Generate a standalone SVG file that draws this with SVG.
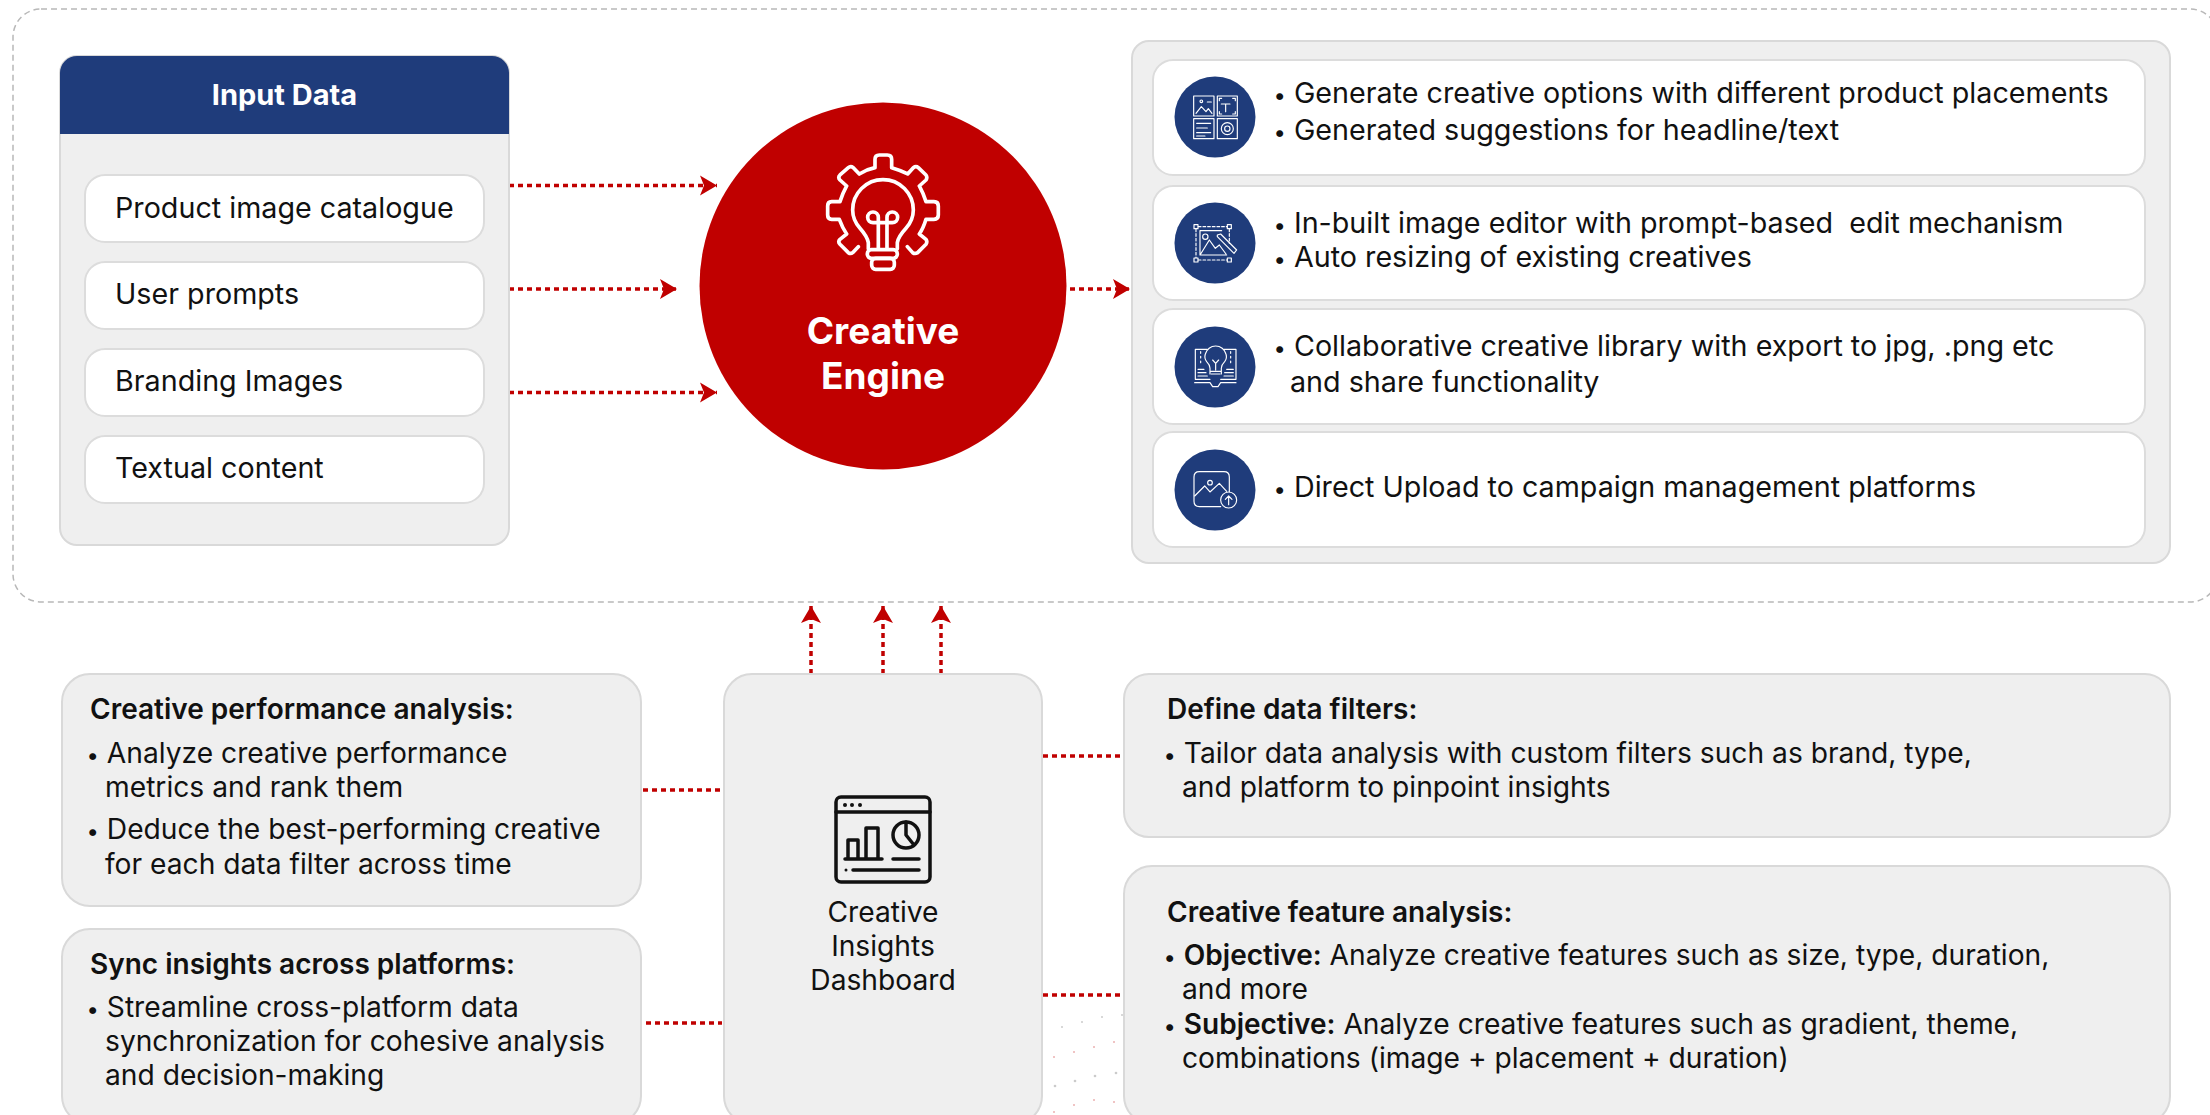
<svg xmlns="http://www.w3.org/2000/svg" width="2210" height="1115" viewBox="0 0 2210 1115">
<style>
text{font-family:Inter,Roboto,"Liberation Sans",sans-serif;fill:#111}
.t{font-size:28.700px}
.m{font-size:28.200px}
.b{font-weight:600;font-size:28px}
.w{fill:#fff;font-weight:700}
.d{font-size:22px}
.panel{fill:#efefef;stroke:#d9d9d9;stroke-width:2}
.card{fill:#fff;stroke:#dcdcdc;stroke-width:2}
.icn{fill:#1f3c7b}
.ln{fill:none;stroke:#fff;stroke-width:3.500;stroke-linecap:round;stroke-linejoin:round}
.conn{fill:none;stroke:#c00000;stroke-width:3.500;stroke-dasharray:5 4}
</style>
<defs>
<marker id="arr" markerUnits="userSpaceOnUse" markerWidth="20" markerHeight="22" refX="17" refY="10" orient="auto" viewBox="0 0 20 20">
<path d="M0,0 L17,10 L0,20 L4,10 Z" fill="#c00000"/>
</marker>
</defs>
<rect width="2210" height="1115" fill="#fff"/>
<rect id="frame" x="13" y="9" width="2205" height="593" rx="28" ry="28" fill="none" stroke="#b8b8b8" stroke-width="1.5" stroke-dasharray="6 4"/>
<g id="dots" fill="#c00000" opacity=".3">
<circle cx="1054" cy="1057" r="1"/><circle cx="1074" cy="1052" r="1"/><circle cx="1094" cy="1047" r="1"/><circle cx="1114" cy="1042" r="1"/>
<circle cx="1054" cy="1112" r="1"/><circle cx="1074" cy="1105" r="1"/><circle cx="1094" cy="1100" r="1"/><circle cx="1114" cy="1102" r="1"/>
<g fill="#555"><circle cx="1062" cy="1027" r="1"/><circle cx="1082" cy="1022" r="1"/><circle cx="1102" cy="1017" r="1"/><circle cx="1122" cy="1015" r="1"/><circle cx="1055" cy="1086" r="1.3"/><circle cx="1075" cy="1081" r="1.3"/><circle cx="1095" cy="1076" r="1.3"/><circle cx="1116" cy="1073" r="1.3"/></g>
</g>
<g id="connectors" class="conn">
<path d="M509,185.500H717" marker-end="url(#arr)"/>
<path d="M509,289H677" marker-end="url(#arr)"/>
<path d="M509,392.500H717" marker-end="url(#arr)"/>
<path d="M1070,289H1130" marker-end="url(#arr)"/>
<path d="M811,674V606" marker-end="url(#arr)"/>
<path d="M883,674V606" marker-end="url(#arr)"/>
<path d="M941,674V606" marker-end="url(#arr)"/>
<path d="M643,790H720"/>
<path d="M646,1023H722"/>
<path d="M1043,756H1120"/>
<path d="M1043,995H1120"/>
</g>
<g id="input-data">
<rect class="panel" x="60" y="56" width="449" height="489" rx="17"/>
<path d="M60,134V73a17,17 0 0 1 17,-17H492a17,17 0 0 1 17,17V134Z" fill="#1f3c7b"/>
<text class="w" x="284.500" y="105" font-size="29" text-anchor="middle">Input Data</text>
</g>
<g id="item-catalogue"><rect class="card" x="85" y="175" width="399" height="67" rx="20"/><text class="t" x="115" y="218">Product image catalogue</text></g>
<g id="item-prompts"><rect class="card" x="85" y="262" width="399" height="67" rx="20"/><text class="t" x="115" y="304">User prompts</text></g>
<g id="item-branding"><rect class="card" x="85" y="349" width="399" height="67" rx="20"/><text class="t" x="115" y="391">Branding Images</text></g>
<g id="item-textual"><rect class="card" x="85" y="436" width="399" height="67" rx="20"/><text class="t" x="115" y="478">Textual content</text></g>
<g id="creative-engine">
<circle cx="883" cy="286" r="183.500" fill="#c00000"/>
<g transform="translate(780 100) scale(.3333)" fill="none" stroke="#fff" stroke-width="11" stroke-linecap="round" stroke-linejoin="round">
<path d="M235,440 L218,458 Q212,463 205,458 L180,433 Q173,425 180,418 L200,402 Q188,385 178,358 L155,358 Q143,358 143,345 L143,318 Q143,305 155,305 L180,305 Q188,280 200,258 L180,240 Q173,232 180,225 L205,203 Q212,197 220,203 L238,222 Q260,208 285,203 L285,178 Q285,165 298,165 L322,165 Q335,165 335,178 L335,203 Q360,210 383,222 L400,203 Q408,197 415,203 L438,225 Q443,232 438,240 L418,258 Q430,280 438,305 L462,305 Q475,305 475,318 L475,345 Q475,358 462,358 L438,358 Q430,385 418,402 L438,418 Q443,425 438,433 L413,458 Q405,463 398,458 L382,440"/>
<path d="M265,447 L265,428 Q262,410 240,385 Q218,360 218,330 A90,90 0 0 1 400,330 Q400,360 378,385 Q355,410 352,428 L352,447"/>
<rect x="262" y="449" width="90" height="26" rx="12"/><rect x="275" y="475" width="68" height="33" rx="12"/>
<path d="M295,447V352A16,16 0 1 0 279,368H337A16,16 0 1 0 321,352V447"/>
</g>
<text class="w" x="883" y="344" font-size="37" text-anchor="middle">Creative</text>
<text class="w" x="883" y="389" font-size="37" text-anchor="middle">Engine</text>
</g>
<g id="output-panel"><rect class="panel" x="1132" y="41" width="1038" height="522" rx="17"/></g>
<g id="output-1">
<rect class="card" x="1153" y="60" width="992" height="115" rx="20"/>
<circle class="icn" cx="1215" cy="117" r="40.500"/>
<g class="ln" transform="translate(1130 30) scale(.3333)">
<rect x="191" y="198" width="61" height="60"/><rect x="262" y="198" width="60" height="60"/><rect x="191" y="266" width="61" height="60"/><rect x="262" y="266" width="60" height="60"/>
<path d="M198,250L214,230L228,245L235,236L246,250M232,216H244M274,222H300M287,222V245M268,212V205H275M308,205H316V212M268,245V252H275M316,245V252H308M200,280H242M200,294H232M200,308H242M200,318H225"/>
<circle cx="214" cy="214" r="4"/><circle cx="292" cy="296" r="8"/><circle cx="292" cy="296" r="18"/>
</g>
<text class="t" x="1273.500" y="103"><tspan class="d">•</tspan> Generate creative options with different product placements</text>
<text class="t" x="1273.500" y="140"><tspan class="d">•</tspan> Generated suggestions for headline/text</text>
</g>
<g id="output-2">
<rect class="card" x="1153" y="186" width="992" height="114" rx="20"/>
<circle class="icn" cx="1215" cy="243" r="40.500"/>
<g class="ln" transform="translate(1130 30) scale(.3333)">
<path stroke-dasharray="8 6" d="M205,590H292M298,597V640M205,690H292M198,597V683"/>
<rect x="192" y="584" width="12" height="12"/><rect x="292" y="584" width="12" height="12"/><rect x="192" y="684" width="12" height="12"/><rect x="292" y="684" width="12" height="12"/>
<path d="M210,602H275M210,602V675H290M212,672L238,630L256,655L268,645L288,672"/><circle cx="226" cy="620" r="8"/>
<path d="M262,615L272,612L320,660L312,670L262,620Z"/>
</g>
<text class="t" x="1273.500" y="233" style="white-space:pre"><tspan class="d">•</tspan> In-built image editor with prompt-based  edit mechanism</text>
<text class="t" x="1273.500" y="267"><tspan class="d">•</tspan> Auto resizing of existing creatives</text>
</g>
<g id="output-3">
<rect class="card" x="1153" y="309" width="992" height="115" rx="20"/>
<circle class="icn" cx="1215" cy="367" r="40.500"/>
<g class="ln" transform="translate(1130 300) scale(.3333)">
<path d="M232,148H196V238H240M282,148H318V238H272M194,248H240L248,260H264L272,248H318"/>
<path d="M240,222V205Q240,195 230,185Q222,175 226,162A32,32 0 0 1 288,162Q292,175 284,185Q274,195 274,205V222M240,214H274M244,222H270M248,180L257,190L266,180M257,190V210"/>
<path stroke-dasharray="5 9" d="M212,155V190M302,155V190"/>
<path d="M204,208H222M204,218H228M204,228H232M290,208H310M284,218H310M282,228H310"/>
</g>
<text class="t" x="1273.500" y="356"><tspan class="d">•</tspan> Collaborative creative library with export to jpg, .png etc</text>
<text class="t" x="1290" y="392">and share functionality</text>
</g>
<g id="output-4">
<rect class="card" x="1153" y="432" width="992" height="115" rx="20"/>
<circle class="icn" cx="1215" cy="490" r="40.500"/>
<g class="ln" transform="translate(1130 300) scale(.3333)">
<path d="M272,620H208Q192,620 192,604V531Q192,515 208,515H282Q298,515 298,531V575"/>
<path d="M194,588L224,558L240,576L268,550L290,574"/><circle cx="240" cy="548" r="7"/>
<circle cx="296" cy="600" r="24"/><path d="M296,614V588M286,598L296,588L306,598"/>
</g>
<text class="t" x="1273.500" y="497"><tspan class="d">•</tspan> Direct Upload to campaign management platforms</text>
</g>
<g id="perf-analysis">
<rect class="panel" x="62" y="674" width="579" height="232" rx="28"/>
<text class="b" x="90" y="719">Creative performance analysis:</text>
<text class="m" x="86.500" y="763"><tspan class="d">•</tspan> Analyze creative performance</text>
<text class="m" x="105" y="797">metrics and rank them</text>
<text class="m" x="86.500" y="839"><tspan class="d">•</tspan> Deduce the best-performing creative</text>
<text class="m" x="105" y="874">for each data filter across time</text>
</g>
<g id="sync-insights">
<rect class="panel" x="62" y="929" width="579" height="195" rx="28"/>
<text class="b" x="90" y="974">Sync insights across platforms:</text>
<text class="m" x="86.500" y="1017"><tspan class="d">•</tspan> Streamline cross-platform data</text>
<text class="m" x="105" y="1051">synchronization for cohesive analysis</text>
<text class="m" x="105" y="1085">and decision-making</text>
</g>
<g id="dashboard">
<rect class="panel" x="724" y="674" width="318" height="450" rx="28"/>
<g fill="none" stroke="#111" stroke-width="3.500" stroke-linecap="round" stroke-linejoin="round">
<rect x="836" y="797" width="94" height="85" rx="5"/><path d="M836,812H930M848,859V840H858V859M866,859V828H878V859M845,859H882M893,859H919M853,870H919"/>
<circle cx="906" cy="835" r="13"/><path d="M906,822V835L914,845"/>
</g>
<g fill="#111"><circle cx="845" cy="805" r="2"/><circle cx="852" cy="805" r="2"/><circle cx="860" cy="805" r="2"/><circle cx="846" cy="870" r="1.500"/></g>
<text class="m" x="883" y="922" text-anchor="middle">Creative</text>
<text class="m" x="883" y="956" text-anchor="middle">Insights</text>
<text class="m" x="883" y="990" text-anchor="middle">Dashboard</text>
</g>
<g id="data-filters">
<rect class="panel" x="1124" y="674" width="1046" height="163" rx="25"/>
<text class="b" x="1167" y="719">Define data filters:</text>
<text class="m" x="1163.500" y="763"><tspan class="d">•</tspan> Tailor data analysis with custom filters such as brand, type,</text>
<text class="m" x="1182" y="797">and platform to pinpoint insights</text>
</g>
<g id="feature-analysis">
<rect class="panel" x="1124" y="866" width="1046" height="258" rx="28"/>
<text class="b" x="1167" y="922">Creative feature analysis:</text>
<text class="m" x="1163.500" y="965"><tspan class="d">•</tspan> <tspan class="b">Objective:</tspan> Analyze creative features such as size, type, duration,</text>
<text class="m" x="1182" y="999">and more</text>
<text class="m" x="1163.500" y="1034"><tspan class="d">•</tspan> <tspan class="b">Subjective:</tspan> Analyze creative features such as gradient, theme,</text>
<text class="m" x="1182" y="1068">combinations (image + placement + duration)</text>
</g>
</svg>
